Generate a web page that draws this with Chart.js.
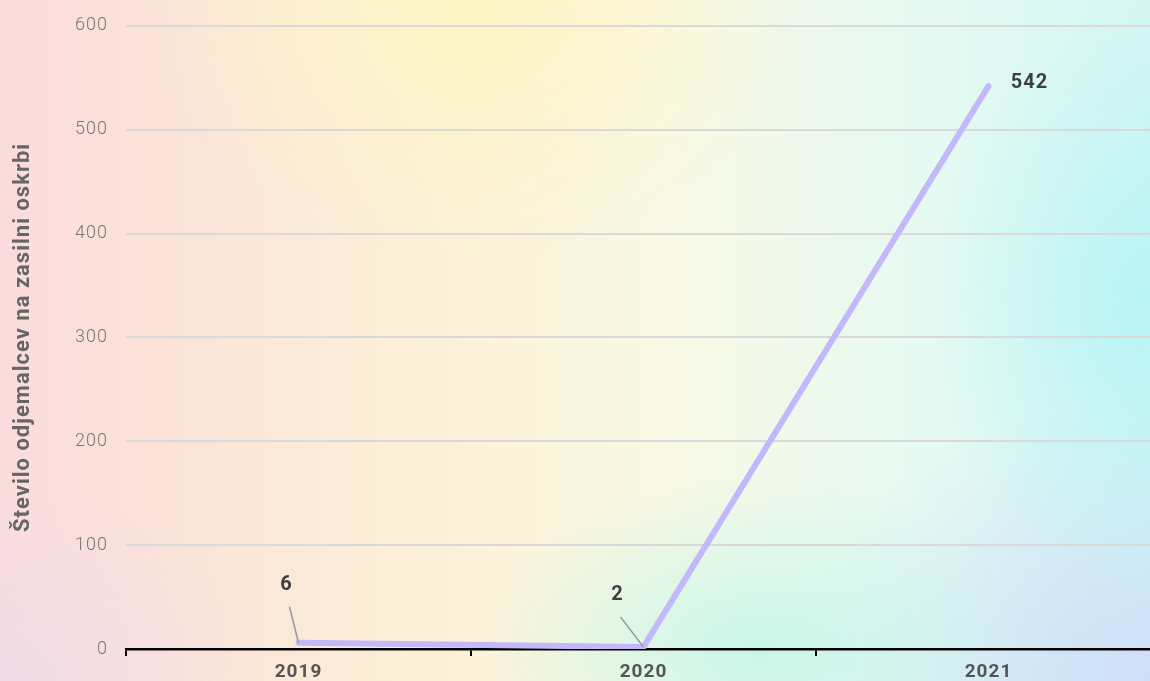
<!DOCTYPE html>
<html>
<head>
<meta charset="utf-8">
<script src="https://cdn.jsdelivr.net/npm/chart.js@4/dist/chart.umd.min.js"></script>
<style>
  html, body { margin: 0; padding: 0; width: 1150px; height: 681px; overflow: hidden; }
  body {
    background:
      radial-gradient(ellipse 320px 260px at 470px 0px, rgba(255,246,196,0.95), rgba(255,246,196,0) 100%),
      radial-gradient(ellipse 280px 170px at 760px 650px, rgba(196,246,234,0.9), rgba(196,246,234,0) 100%),
      radial-gradient(ellipse 220px 300px at 1150px 300px, rgba(184,244,246,0.95), rgba(184,244,246,0) 100%),
      radial-gradient(ellipse 360px 280px at 1150px 681px, rgba(206,222,248,1), rgba(206,222,248,0) 100%),
      radial-gradient(ellipse 260px 200px at 0px 681px, rgba(240,220,232,0.9), rgba(240,220,232,0) 100%),
      linear-gradient(90deg, #fbdcdc 0%, #fbe6d8 20%, #fcf2d8 40%, #f8f8e4 58%, #e6faf2 80%, #d4f6f4 100%);
  }
  #wrap { position: absolute; left: 0; top: -3px; width: 1161px; height: 692px; }
</style>
</head>
<body>
<div id="wrap"><canvas id="chart" width="1161" height="692"></canvas></div>
<script>
// --- Data ---
const years  = ["2019", "2020", "2021"];
const counts = [6, 2, 542];
const yTicks = [0, 100, 200, 300, 400, 500, 600];

// label offsets relative to each point (px)
const labelOffsets = [[-12, -58], [-26, -52], [41, -3]];
const leaderLines  = [true, true, false];

const fontFam = "Roboto, 'DejaVu Sans', sans-serif";

// --- DIN-like tracking for all text ---
const tracking = {
  id: 'tracking',
  beforeDraw(chart) { chart.ctx.letterSpacing = '1px'; }
};

// --- Value labels with leader lines ---
const valueLabels = {
  id: 'valueLabels',
  afterDatasetsDraw(chart) {
    const ctx  = chart.ctx;
    const meta = chart.getDatasetMeta(0);
    ctx.save();
    meta.data.forEach((pt, i) => {
      const [dx, dy] = labelOffsets[i];
      const lx = pt.x + dx, ly = pt.y + dy;
      if (leaderLines[i]) {
        ctx.strokeStyle = '#9a9a9a';
        ctx.lineWidth = 1.5;
        ctx.beginPath();
        ctx.moveTo(lx + 3, ly + 22);
        ctx.lineTo(pt.x, pt.y);
        ctx.stroke();
      }
      ctx.fillStyle = '#3f3f3f';
      ctx.font = 'bold 20px ' + fontFam;
      ctx.textAlign = 'center';
      ctx.textBaseline = 'middle';
      ctx.fillText(counts[i], lx, ly);
    });
    ctx.restore();
  }
};

new Chart(document.getElementById('chart'), {
  type: 'line',
  data: {
    labels: years,
    datasets: [{
      data: counts,
      borderColor: '#c3b8fb',
      borderWidth: 6,
      borderCapStyle: 'round',
      pointRadius: 0,
      tension: 0,
      fill: false
    }]
  },
  options: {
    responsive: false,
    animation: false,
    layout: { padding: { top: 20, right: 0, bottom: 0, left: 0 } },
    plugins: { legend: { display: false }, tooltip: { enabled: false } },
    scales: {
      x: {
        offset: true,
        border: { color: '#000', width: 2.5 },
        grid: { drawOnChartArea: false, color: '#000', lineWidth: 2, tickLength: 7, offset: true },
        ticks: { color: '#555', padding: 5, font: { family: fontFam, size: 19, weight: 'bold' } },
        afterFit(scale) { scale.height = 40; }
      },
      y: {
        min: 0,
        max: 600,
        afterBuildTicks(scale) { scale.ticks = yTicks.map(v => ({ value: v })); },
        border: { display: false },
        grid: { color: '#d9d9d9', lineWidth: 2, drawTicks: false },
        ticks: { color: '#777', padding: 18, font: { family: fontFam, size: 18, weight: 300 } },
        title: {
          display: true,
          text: 'Število odjemalcev na zasilni oskrbi',
          color: '#666',
          padding: { top: 10, bottom: 0 },
          font: { family: fontFam, size: 22, weight: 'bold' }
        },
        afterFit(scale) { scale.width = 126; }
      }
    }
  },
  plugins: [tracking, valueLabels]
});
</script>
</body>
</html>
